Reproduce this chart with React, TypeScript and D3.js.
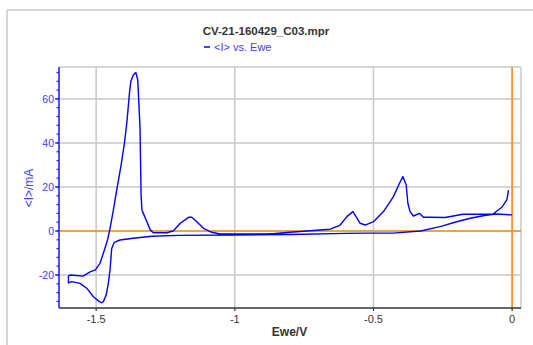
import React from "react";
import * as d3 from "d3";

const title = "CV-21-160429_C03.mpr";
const legendLabel = "<I> vs. Ewe";
const xLabel = "Ewe/V";
const yLabel = "<I>/mA";
const xTicks = [-1.5, -1, -0.5, 0];
const xTickLabels = ["-1.5", "-1", "-0.5", "0"];
const yTicks = [-20, 0, 20, 40, 60];
const yTickLabels = ["-20", "0", "20", "40", "60"];

// cathodic (negative-going) sweep: potential (V), current (mA)
const cathodicE = [0, -0.06, -0.1, -0.151, -0.2, -0.26, -0.33, -0.43, -0.52, -0.6, -0.8, -1.0, -1.2, -1.3, -1.366, -1.414, -1.435, -1.444, -1.45, -1.456, -1.464, -1.474, -1.48, -1.49, -1.51, -1.534, -1.558, -1.588, -1.6];
const cathodicI = [7.3, 7.7, 7.0, 5.8, 4.2, 2.0, 0.0, -1.0, -1.0, -1.1, -1.6, -1.8, -2.0, -2.4, -3.3, -4.1, -5.2, -8.0, -17.7, -23.8, -29.1, -32.1, -32.6, -32.0, -29.9, -26.0, -23.8, -23.0, -23.6];

// anodic (positive-going) sweep
const anodicE = [-1.6, -1.594, -1.547, -1.522, -1.503, -1.486, -1.474, -1.459, -1.45, -1.438, -1.426, -1.411, -1.398, -1.389, -1.38, -1.375, -1.366, -1.357, -1.35, -1.348, -1.342, -1.34, -1.338, -1.335, -1.33, -1.317, -1.305, -1.294, -1.245, -1.221, -1.197, -1.167, -1.155, -1.137, -1.113, -1.083, -1.053, -0.873, -0.801, -0.728, -0.656, -0.62, -0.596, -0.574, -0.563, -0.548, -0.53, -0.5, -0.464, -0.428, -0.406, -0.394, -0.382, -0.376, -0.368, -0.356, -0.334, -0.32, -0.296, -0.242, -0.177, -0.069, -0.037, -0.019, -0.013];
const anodicI = [-20.5, -20.0, -20.5, -18.6, -17.7, -14.7, -10.1, -4.1, 1.2, 9.5, 18.6, 29.2, 39.9, 49.7, 62.6, 67.9, 70.9, 72.0, 68.6, 63.3, 47.4, 32.3, 16.4, 9.5, 8.0, 4.2, 0.5, -0.8, -0.8, 0.1, 3.5, 6.2, 6.2, 4.2, 1.2, -0.6, -1.4, -1.4, -0.6, 0.1, 0.8, 2.7, 6.5, 8.8, 6.5, 3.5, 2.7, 4.2, 8.8, 15.6, 21.7, 24.7, 20.9, 12.6, 8.8, 6.8, 8.0, 6.2, 6.2, 6.1, 7.6, 7.7, 10.8, 14.1, 18.6];

const W = 533;
const H = 345;
const M = { left: 59, right: 521, top: 67, bottom: 308 };
const FONT = "'Liberation Sans', Arial, sans-serif";

export default function App() {
  const x = d3.scaleLinear().domain([-1.634, 0.032]).range([M.left, M.right]);
  const y = d3.scaleLinear().domain([-35, 74.5]).range([M.bottom, M.top]);
  const pts: [number, number][] = [
    ...cathodicE.map((e, i) => [e, cathodicI[i]] as [number, number]),
    ...anodicE.map((e, i) => [e, anodicI[i]] as [number, number]),
  ];
  const line = d3
    .line<[number, number]>()
    .x((d) => x(d[0]))
    .y((d) => y(d[1]));
  const minorY = d3.range(-32, 74, 4);
  const grid = "#c8c8c8";
  const orange = "#ff8c1a";
  const blue = "#1a1aff";
  const textBlue = "#4040ff";

  return (
    <svg
      width={W}
      height={H}
      style={{ position: "absolute", left: 0, top: 0, background: "#fff" }}
    >
      {/* outer frame */}
      <line x1={7} y1={10} x2={W} y2={10} stroke={grid} strokeWidth={1.5} />
      <line x1={7} y1={10} x2={7} y2={H} stroke={grid} strokeWidth={1.5} />

      {/* grid */}
      {xTicks.map((t) => (
        <line key={"gx" + t} x1={x(t)} x2={x(t)} y1={M.top} y2={M.bottom} stroke={grid} strokeWidth={1.5} />
      ))}
      {yTicks.map((t) => (
        <line key={"gy" + t} x1={M.left} x2={M.right} y1={y(t)} y2={y(t)} stroke={grid} strokeWidth={1.5} />
      ))}
      <line x1={M.left} x2={M.right} y1={M.top} y2={M.top} stroke={grid} strokeWidth={1.5} />
      <line x1={M.right} x2={M.right} y1={M.top} y2={M.bottom} stroke={grid} strokeWidth={1.5} />

      {/* zero lines */}
      <line x1={M.left} x2={M.right} y1={y(0)} y2={y(0)} stroke={orange} strokeWidth={1.5} />
      <line x1={x(0)} x2={x(0)} y1={M.top} y2={M.bottom} stroke={orange} strokeWidth={1.5} />

      {/* curve */}
      <path d={line(pts) || ""} fill="none" stroke="#0000ff" strokeWidth={1.4} strokeLinejoin="round" />

      {/* axes */}
      <line x1={M.left} x2={M.right} y1={M.bottom} y2={M.bottom} stroke="#333" strokeWidth={1.5} />
      {xTicks.map((t, i) => (
        <g key={"xt" + t}>
          <line x1={x(t)} x2={x(t)} y1={M.bottom} y2={M.bottom + 3} stroke="#333" strokeWidth={1.2} />
          <text x={x(t)} y={M.bottom + 15} textAnchor="middle" fontFamily={FONT} fontSize={11} fill="#333">
            {xTickLabels[i]}
          </text>
        </g>
      ))}
      <line x1={M.left} x2={M.left} y1={M.top} y2={M.bottom} stroke={blue} strokeWidth={1.5} />
      {minorY.map((t) => (
        <line key={"my" + t} x1={M.left - 2.5} x2={M.left} y1={y(t)} y2={y(t)} stroke={blue} strokeWidth={1.2} />
      ))}
      {yTicks.map((t, i) => (
        <g key={"yt" + t}>
          <line x1={M.left - 4} x2={M.left} y1={y(t)} y2={y(t)} stroke={blue} strokeWidth={1.2} />
          <text x={M.left - 5} y={y(t) + 4} textAnchor="end" fontFamily={FONT} fontSize={10.5} fill={textBlue}>
            {yTickLabels[i]}
          </text>
        </g>
      ))}

      {/* labels */}
      <text x={266} y={35} textAnchor="middle" fontFamily={FONT} fontSize={11.5} fill="#333" fontWeight="bold">
        {title}
      </text>
      <line x1={204} x2={210} y1={47} y2={47} stroke="#0000ff" strokeWidth={1.5} />
      <text x={214} y={51} fontFamily={FONT} fontSize={11} fill={textBlue}>
        {legendLabel}
      </text>
      <text x={289.5} y={336} textAnchor="middle" fontFamily={FONT} fontSize={12} fill="#333" fontWeight="bold">
        {xLabel}
      </text>
      <text
        transform={`translate(33,${188}) rotate(-90)`}
        textAnchor="middle"
        fontFamily={FONT}
        fontSize={12}
        fill={textBlue}
      >
        {yLabel}
      </text>
    </svg>
  );
}
